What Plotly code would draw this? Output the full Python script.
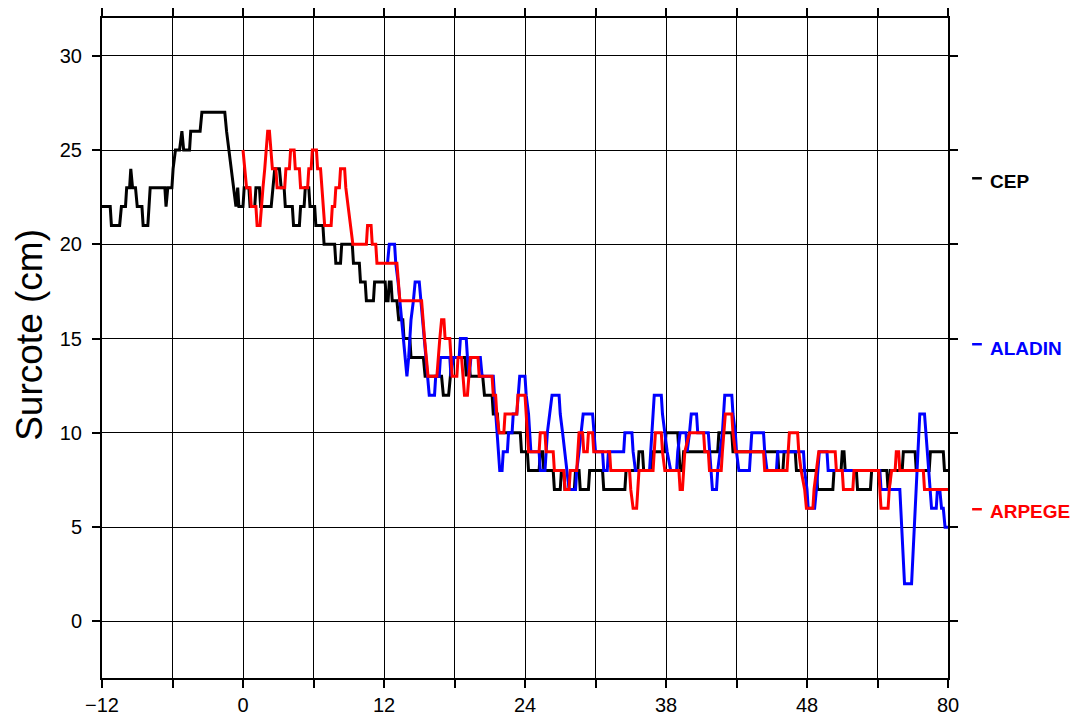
import plotly.graph_objects as go

# ---- data (hours, surge in cm), vertices ----
cep_hours = [-12.0,-11.3,-11.2,-10.5,-10.35,-10.0,-9.9,-9.65,-9.55,-9.4,-9.15,-9.0,-8.6,-8.5,-8.1,-8.0,-7.9,-6.65,-6.55,-6.4,-6.05,-5.95,-5.75,-5.4,-5.2,-5.05,-4.55,-4.45,-3.65,-3.5,-1.55,-1.4,-1.2,-1.05,-0.85,-0.6,-0.45,-0.35,0.0,0.1,0.5,0.6,1.0,1.1,1.4,1.5,2.4,2.55,2.7,3.1,3.25,3.5,3.6,4.2,4.3,4.8,4.9,5.2,5.3,5.6,5.7,6.1,6.2,6.8,6.9,7.8,7.9,8.3,8.4,9.3,9.4,9.9,10.0,10.4,10.5,11.1,11.2,12.1,12.2,12.35,12.45,12.6,12.7,13.1,13.25,13.6,13.7,14.2,14.3,15.35,15.5,16.9,17.05,17.5,17.65,17.8,18.9,19.0,19.2,19.35,20.4,20.55,21.2,21.3,21.65,21.75,23.6,23.7,24.2,24.3,25.2,25.3,25.5,25.6,26.4,26.5,27.0,27.1,27.3,27.4,28.2,28.3,28.6,28.7,29.4,29.5,30.6,30.7,32.5,32.6,33.6,33.7,34.0,34.1,34.7,34.8,35.9,36.0,37.0,37.1,37.2,37.4,37.5,40.4,40.5,41.6,41.7,45.5,45.6,45.95,46.05,47.0,47.1,48.8,48.9,50.2,50.3,50.9,51.0,51.15,51.25,52.2,52.3,53.4,53.5,54.8,54.9,55.0,55.1,56.1,56.2,57.2,57.3,58.4,58.5,59.6,59.7,60.0]
cep_cm = [22,22,21,21,22,22,23,23,24,23,23,22,22,21,21,22,23,23,22,23,23,24,25,25,26,25,25,26,26,27,27,26,25,24,23,22,23,22,22,23,23,22,22,23,23,22,22,23,24,24,23,23,22,22,21,21,22,22,23,23,22,22,21,21,20,20,19,19,20,20,19,19,18,18,17,17,18,18,17,17,18,18,17,17,16,16,15,15,14,14,13,13,12,12,13,14,14,13,14,13,13,12,12,11,11,10,10,9,9,8,8,9,9,8,8,7,7,8,8,7,7,8,8,7,7,8,8,7,7,8,8,9,9,8,8,9,9,10,10,9,8,8,9,9,10,10,9,9,8,8,9,9,8,8,7,7,8,8,9,9,8,8,7,7,8,8,7,7,8,8,9,9,8,8,9,9,8,8]

aladin_hours = [12.3,12.45,12.9,13.0,13.2,13.35,13.5,13.65,13.8,13.95,14.1,14.3,14.5,14.65,15.0,15.15,15.3,15.45,15.6,15.75,15.85,16.3,16.4,16.7,16.8,17.6,17.7,17.9,18.4,18.5,19.0,19.1,19.25,19.4,20.2,20.35,21.3,21.4,21.5,21.65,21.75,21.85,22.05,22.15,22.5,22.6,22.9,23.0,23.3,23.4,23.55,24.0,24.1,24.3,24.4,24.5,25.2,25.3,25.7,25.8,25.9,26.1,26.3,26.9,27.0,27.2,27.4,27.55,27.75,28.3,28.4,28.6,28.8,28.95,29.75,29.85,30.0,30.6,30.7,31.0,31.1,32.4,32.5,33.1,33.2,33.4,34.6,34.7,34.8,34.9,35.0,35.6,35.7,35.9,36.1,36.4,36.9,37.0,37.2,37.7,37.8,38.0,38.15,38.6,38.7,39.6,39.7,39.85,39.95,40.3,40.4,40.6,40.8,40.9,41.0,41.6,41.7,41.9,42.0,42.2,43.1,43.2,43.3,44.3,44.4,44.6,45.4,45.5,47.7,47.8,48.0,48.1,48.65,48.8,48.9,49.05,49.7,49.8,54.2,54.3,55.9,56.3,56.9,57.6,58.0,58.6,59.0,59.1,59.3,59.45,59.6,59.75,60.0]
aladin_cm = [19,20,20,19,18,17,16,15,14,13,14,16,17,18,18,17,16,15,14,13,12,12,13,13,14,14,13,14,14,15,15,14,13,14,14,13,13,12,11,10,9,8,8,9,9,10,10,11,11,12,13,13,12,11,10,9,9,8,8,9,10,11,12,12,11,10,9,8,7,7,8,9,10,11,11,10,9,9,8,8,9,9,10,10,9,8,8,9,10,11,12,12,11,10,9,8,8,9,10,10,9,10,11,11,10,10,9,8,7,7,8,9,10,11,12,12,11,10,9,8,8,9,10,10,9,8,8,9,9,8,7,6,6,7,8,9,9,8,8,7,7,2,2,11,11,6,6,7,7,6,6,5,5]

arpege_hours = [0.0,0.15,0.3,0.6,0.7,1.1,1.2,1.45,1.55,1.7,1.85,2.0,2.1,2.25,2.4,2.5,2.8,2.9,3.55,3.65,3.95,4.05,4.35,4.45,4.8,4.9,5.5,5.6,5.8,5.9,6.25,6.35,6.6,6.7,6.8,6.95,7.5,7.6,7.8,7.9,8.2,8.3,8.65,8.75,8.95,9.15,9.35,10.5,10.6,10.9,11.0,11.3,11.4,13.1,13.2,13.35,15.2,15.3,15.45,15.6,15.75,16.5,16.6,16.75,16.9,17.1,17.2,17.6,17.7,17.8,18.2,18.3,18.6,18.75,18.85,19.1,19.2,19.35,20.0,20.1,21.2,21.3,21.5,21.6,21.8,22.2,22.3,23.3,23.4,24.0,24.1,24.2,24.3,25.2,25.3,25.7,25.8,26.4,26.5,27.3,27.4,27.75,27.85,28.4,28.5,28.6,28.9,29.0,29.3,29.4,29.75,29.85,31.2,31.3,32.9,33.0,33.2,33.5,33.6,33.7,34.9,35.0,35.1,35.6,35.7,35.9,37.1,37.2,37.4,37.5,37.6,38.0,39.2,39.3,39.6,39.7,40.7,40.8,40.95,41.05,41.6,41.7,41.9,44.3,44.4,46.3,46.4,46.5,47.2,47.3,47.5,47.8,47.95,48.5,48.6,48.8,49.0,50.4,50.5,51.0,51.1,51.9,52.0,54.1,54.2,54.3,54.9,55.0,55.2,55.5,55.6,55.8,55.9,57.9,58.0,60.0]
arpege_cm = [25,24,23,23,22,22,21,21,22,23,24,25,26,26,25,24,24,23,23,24,24,25,25,24,24,23,23,24,24,25,25,24,24,23,22,21,21,22,22,23,23,24,24,23,22,21,20,20,21,21,20,20,19,19,18,17,17,16,15,14,13,13,14,15,16,16,15,15,14,13,13,14,14,13,12,12,13,14,14,13,13,12,12,11,10,10,11,11,12,12,11,10,9,9,10,10,9,9,8,8,7,7,8,8,9,10,10,9,9,10,10,9,9,8,8,7,6,6,7,8,8,9,10,10,9,8,8,7,7,8,9,10,10,9,9,8,8,9,10,11,11,10,9,9,8,8,9,10,10,9,8,7,6,6,7,8,9,9,8,8,7,7,8,8,7,6,6,7,8,8,9,9,8,8,7,7]

x_tick_vals = [-12, -6, 0, 6, 12, 18, 24, 30, 36, 42, 48, 54, 60]
x_tick_text = ["\u221212", "", "0", "", "12", "", "24", "", "38", "", "48", "", "80"]
y_tick_vals = [0, 5, 10, 15, 20, 25, 30]
y_title = "Surcote (cm)"

# name, hours, values, colour, label level (cm), marker-dash level (cm)
series = [
    ("CEP", cep_hours, cep_cm, "#000000", 23.34, 23.5),
    ("ALADIN", aladin_hours, aladin_cm, "#0000ff", 14.49, 14.7),
    ("ARPEGE", arpege_hours, arpege_cm, "#ff0000", 5.83, 5.95),
]

FONT = "Liberation Sans, Arial, Helvetica, sans-serif"

fig = go.Figure()
for name, xs, ys, col, _, _ in series:
    fig.add_trace(go.Scatter(x=xs, y=ys, mode="lines", name=name,
                             line=dict(color=col, width=3), showlegend=False))

for name, xs, ys, col, ylab, ydash in series:
    fig.add_annotation(xref="paper", yref="y", x=1.047, y=ylab, xanchor="left",
                       yanchor="middle", showarrow=False, text="<b>" + name + "</b>",
                       font=dict(family=FONT, size=19, color=col))
    fig.add_shape(type="line", xref="paper", yref="y", x0=1.0285, x1=1.040,
                  y0=ydash, y1=ydash, line=dict(color=col, width=2.5))

# y-axis title (rotated text, slightly above the axis centre as in the original)
fig.add_annotation(xref="paper", yref="paper", x=-0.0851, y=0.52, xanchor="center",
                   yanchor="middle", textangle=-90, showarrow=False, text=y_title,
                   borderpad=0, font=dict(family=FONT, size=37, color="black"))

axis_common = dict(showline=True, linecolor="black", linewidth=2, mirror="ticks",
                   ticks="outside", tickcolor="black", ticklen=8, tickwidth=1.5,
                   showgrid=True, gridcolor="black", gridwidth=1, zeroline=False,
                   tickfont=dict(family=FONT, size=20, color="black"))

fig.update_xaxes(range=[-12, 60], tickmode="array", tickvals=x_tick_vals,
                 ticktext=x_tick_text, **axis_common)
fig.update_yaxes(range=[-3, 32], tickmode="array", tickvals=y_tick_vals,
                 ticklabelstandoff=6, **axis_common)

fig.update_layout(width=1073, height=707, plot_bgcolor="white", paper_bgcolor="white",
                  margin=dict(l=94, r=133, t=10, b=37, autoexpand=False))

fig.write_html("out.html")
